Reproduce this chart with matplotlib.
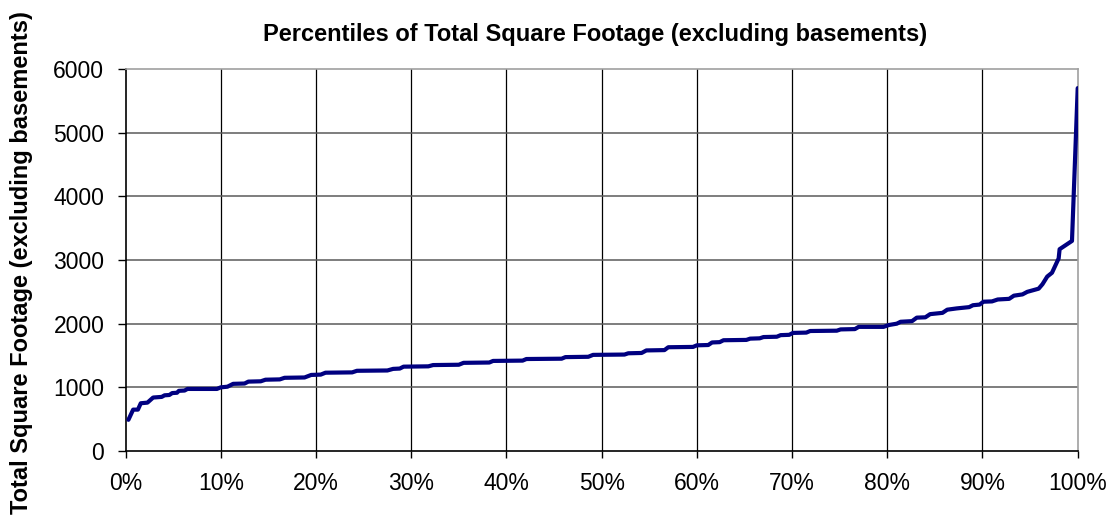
import matplotlib
matplotlib.use("Agg")
import matplotlib.pyplot as plt

# percentile position (%) and total square footage
pct = [0.3, 0.8, 1.3, 1.6, 2.3, 2.9, 3.8, 4.1, 4.6, 4.9, 5.4, 5.6, 6.2, 6.5,
       9.6, 10.0, 10.7, 11.3, 12.5, 12.9, 14.2, 14.7, 16.2, 16.7, 18.8, 19.5,
       20.5, 21.0, 23.8, 24.3, 27.5, 28.1, 28.8, 29.2, 31.8, 32.3, 35.0, 35.5,
       38.2, 38.6, 41.7, 42.1, 45.8, 46.2, 48.6, 49.1, 52.4, 52.8, 54.2, 54.7,
       56.6, 57.0, 59.6, 60.0, 61.2, 61.6, 62.4, 62.8, 65.2, 65.6, 66.6, 67.0,
       68.4, 68.8, 69.7, 70.1, 71.5, 71.9, 74.7, 75.1, 76.6, 77.0, 79.6, 80.2,
       81.0, 81.4, 82.6, 83.1, 84.0, 84.5, 85.8, 86.3, 87.3, 88.6, 89.0, 89.7,
       90.1, 91.0, 91.6, 92.8, 93.3, 94.2, 94.7, 95.9, 96.3, 96.8, 97.3, 98.0,
       98.1, 99.4, 100.0]
sqft = [490, 650, 650, 750, 760, 840, 850, 875, 880, 910, 915, 945, 950, 975,
        975, 1000, 1010, 1055, 1060, 1090, 1095, 1120, 1125, 1150, 1155, 1195,
        1200, 1230, 1235, 1260, 1265, 1290, 1295, 1325, 1330, 1350, 1355, 1385,
        1390, 1415, 1420, 1445, 1450, 1475, 1480, 1510, 1515, 1535, 1540, 1580,
        1585, 1630, 1635, 1660, 1665, 1705, 1710, 1740, 1745, 1765, 1770, 1790,
        1795, 1820, 1825, 1855, 1860, 1885, 1890, 1910, 1915, 1950, 1950, 1980,
        2000, 2030, 2040, 2095, 2100, 2150, 2170, 2220, 2240, 2260, 2290, 2300,
        2345, 2350, 2380, 2390, 2440, 2460, 2500, 2550, 2620, 2740, 2800, 3025,
        3170, 3300, 5700]

x_ticks = [0, 10, 20, 30, 40, 50, 60, 70, 80, 90, 100]
x_tick_labels = ['0%', '10%', '20%', '30%', '40%', '50%', '60%', '70%',
                 '80%', '90%', '100%']
y_ticks = [0, 1000, 2000, 3000, 4000, 5000, 6000]

title = 'Percentiles of Total Square Footage (excluding basements)'
ylabel = 'Total Square Footage (excluding basements)'

plt.rcParams['font.family'] = ['Liberation Sans', 'DejaVu Sans']

fig = plt.figure(figsize=(11.10, 5.19), dpi=100)
ax = fig.add_axes([0.1131, 0.131, 0.8578, 0.736])

# grid: black verticals, grey horizontals
for xv in x_ticks[1:-1]:
    ax.axvline(xv, color='black', lw=0.9, zorder=1)
for yv in y_ticks[1:-1]:
    ax.axhline(yv, color='#5a5a5a', lw=1.1, zorder=1)

ax.plot(pct, sqft, color='#000080', lw=3, solid_capstyle='round',
        solid_joinstyle='round', zorder=3)

ax.set_xlim(0, 100)
ax.set_ylim(0, 6000)
ax.set_xticks(x_ticks)
ax.set_xticklabels(x_tick_labels)
ax.set_yticks(y_ticks)
ax.tick_params(axis='both', labelsize=16.5, direction='out', width=1,
               colors='black')
ax.tick_params(axis='x', length=5, pad=10)
ax.tick_params(axis='y', length=5.8, pad=9.5)

for side in ['left', 'bottom']:
    ax.spines[side].set_color('black')
    ax.spines[side].set_linewidth(1.2)
for side in ['top', 'right']:
    ax.spines[side].set_color('#a0a0a0')
    ax.spines[side].set_linewidth(1.2)

fig.text(0.536, 0.933, title, ha='center', va='center', fontsize=17,
         fontweight='bold')
fig.text(0.019, 0.494, ylabel, ha='center', va='center', rotation=90,
         fontsize=17, fontweight='bold')

fig.savefig('out.png', dpi=100)
